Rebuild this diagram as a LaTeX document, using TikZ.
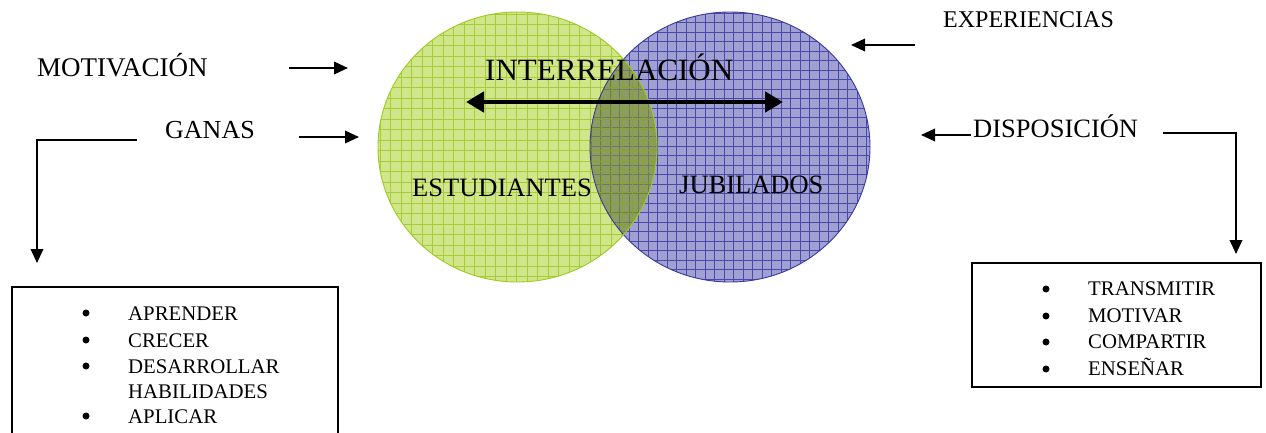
\documentclass[tikz,border=0pt]{standalone}
\usepackage{fontspec}
\setmainfont{Liberation Serif}
\usetikzlibrary{arrows.meta}
\definecolor{grnfill}{HTML}{D1E58A}
\definecolor{grnline}{HTML}{A6CC38}
\definecolor{grnedge}{HTML}{9CCB20}
\definecolor{blufill}{HTML}{A0A0D2}
\definecolor{bluline}{HTML}{4A4AAA}
\definecolor{bluedge}{HTML}{3838A0}
\definecolor{olivefill}{HTML}{8C9C62}
\definecolor{oliveline}{HTML}{6E7A58}
\begin{document}
\begin{tikzpicture}[x=1pt,y=-1pt,
  lbl/.style={inner sep=0pt, anchor=base west, font=\fontsize{26.5}{26.5}\selectfont},
  item/.style={inner sep=0pt, anchor=base west, font=\fontsize{20.8}{20.8}\selectfont},
  arr/.style={line width=2pt, -{Triangle[length=14pt,width=12.5pt]}},
  bigarr/.style={line width=4.8pt, {Triangle[length=18pt,width=20pt]}-{Triangle[length=18pt,width=20pt]}},
  listbox/.style={draw, line width=1.9pt},
  bullet/.style={circle, fill, inner sep=0pt, minimum size=7pt}]
\useasboundingbox (0,0) rectangle (1266,433);
\clip (0,0) rectangle (1266,433);

% blue circle (JUBILADOS)
\fill[blufill] (730,147) ellipse [x radius=140, y radius=135];
\begin{scope}
  \clip (730,147) ellipse [x radius=140, y radius=135];
  \foreach \x in {591,600.5,...,872} \draw[bluline, line width=0.6pt] (\x,10) -- (\x,285);
  \foreach \y in {13,22.5,...,284} \draw[bluline, line width=0.6pt] (588,\y) -- (872,\y);
\end{scope}
% green circle (ESTUDIANTES)
\fill[grnfill] (517.5,147) ellipse [x radius=139.5, y radius=135];
\begin{scope}
  \clip (517.5,147) ellipse [x radius=139.5, y radius=135];
  \foreach \x in {380,390.5,...,660} \draw[grnline, line width=0.8pt] (\x,10) -- (\x,285);
  \foreach \y in {14,24.5,...,284} \draw[grnline, line width=0.8pt] (376,\y) -- (660,\y);
\end{scope}
% overlap
\begin{scope}
  \clip (517.5,147) ellipse [x radius=139.5, y radius=135];
  \fill[olivefill] (730,147) ellipse [x radius=140, y radius=135];
  \clip (730,147) ellipse [x radius=140, y radius=135];
  \foreach \x in {591,600.5,...,662} \draw[oliveline, line width=0.5pt] (\x,10) -- (\x,285);
  \foreach \y in {13,22.5,...,284} \draw[oliveline, line width=0.5pt] (588,\y) -- (662,\y);
  \foreach \x in {590.5,601,...,660} \draw[grnline!80!black, line width=0.8pt] (\x,10) -- (\x,285);
  \foreach \y in {14,24.5,...,284} \draw[grnline!80!black, line width=0.8pt] (588,\y) -- (662,\y);
\end{scope}
\draw[bluedge, line width=0.9pt] (730,147) ellipse [x radius=140, y radius=135];
\draw[grnedge, line width=0.9pt] (517.5,147) ellipse [x radius=139.5, y radius=135];

% circle labels
\node[lbl, font=\fontsize{31}{31}\selectfont] (inter) at (485,81) {INTERRELACIÓN};
\node[lbl] (estud) at (412,196) {ESTUDIANTES};
\node[lbl] (jubil) at (679,193) {JUBILADOS};
\coordinate (ia) at (466,102);
\coordinate (ib) at (783,102);
\draw[bigarr] (ia) -- (ib);

% left side
\node[lbl, font=\fontsize{27}{27}\selectfont] (motiv) at (37,77) {MOTIVACIÓN};
\node[lbl, font=\fontsize{26}{26}\selectfont] (ganas) at (165,139) {GANAS};
\coordinate (m1) at (289,68);
\coordinate (m2) at (348,68);
\draw[arr] (m1) -- (m2);
\coordinate (g1) at (299,137);
\coordinate (g2) at (359,137);
\draw[arr] (g1) -- (g2);
\coordinate (gl1) at (137,140);
\coordinate (gl2) at (37,263);
\draw[arr] (gl1) -| (gl2);

% right side
\node[lbl, font=\fontsize{24}{24}\selectfont] (exper) at (943,28) {EXPERIENCIAS};
\node[lbl] (dispo) at (973,138) {DISPOSICIÓN};
\coordinate (e1) at (915,45);
\coordinate (e2) at (851,45);
\draw[arr] (e1) -- (e2);
\coordinate (d1) at (971,135);
\coordinate (d2) at (921,135);
\draw[arr] (d1) -- (d2);
\coordinate (dl1) at (1163,133);
\coordinate (dl2) at (1236,254);
\draw[arr] (dl1) -| (dl2);

% left list box
\draw[listbox] (12,287) rectangle (338,445);
\node[bullet] (lb1) at (86,313) {};
\node[item] (l1) at (128,320) {APRENDER};
\node[bullet] (lb2) at (86,340) {};
\node[item] (l2) at (128,347) {CRECER};
\node[bullet] (lb3) at (86,366) {};
\node[item] (l3) at (128,373) {DESARROLLAR};
\node[item] (l4) at (128,398) {HABILIDADES};
\node[bullet] (lb5) at (86,416) {};
\node[item] (l5) at (128,423) {APLICAR};

% right list box
\draw[listbox] (972,263) rectangle (1261,387);
\node[bullet] (rb1) at (1046,289) {};
\node[item] (r1) at (1088,295) {TRANSMITIR};
\node[bullet] (rb2) at (1046,316) {};
\node[item] (r2) at (1088,322) {MOTIVAR};
\node[bullet] (rb3) at (1046,342) {};
\node[item] (r3) at (1088,348) {COMPARTIR};
\node[bullet] (rb4) at (1046,369) {};
\node[item] (r4) at (1088,375) {ENSEÑAR};
\end{tikzpicture}
\end{document}
